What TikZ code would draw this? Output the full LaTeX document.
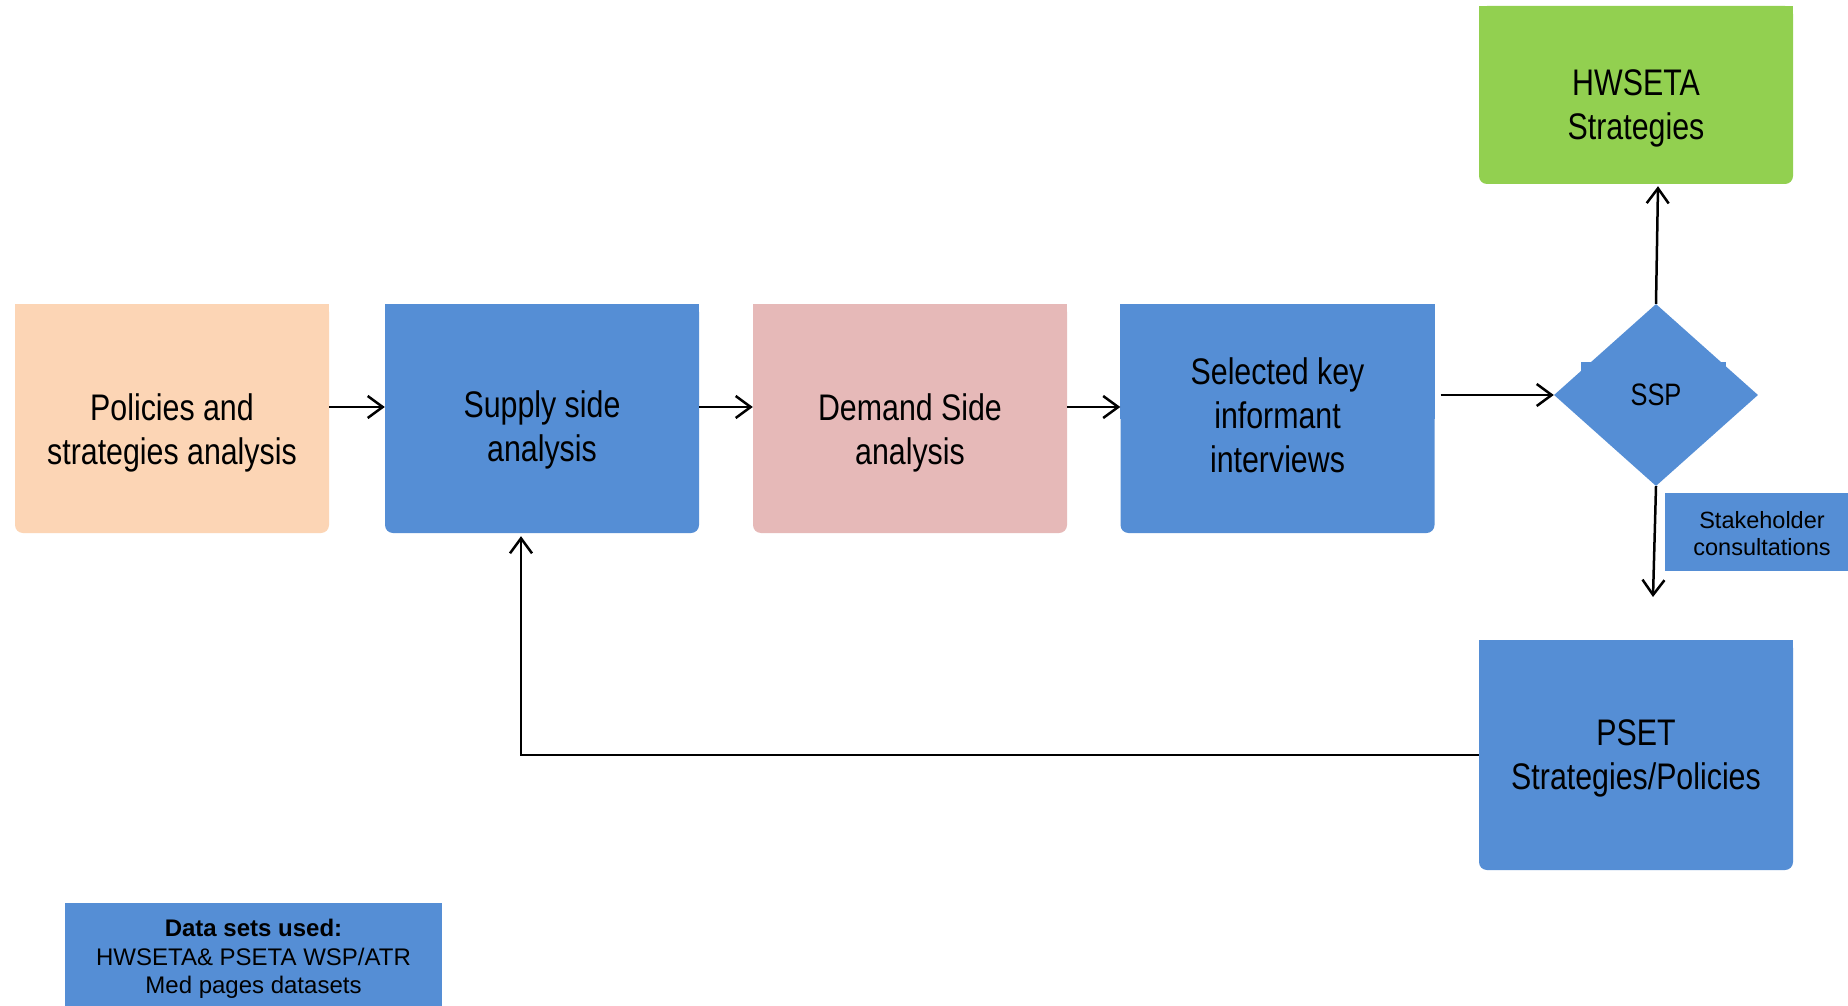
\documentclass[tikz,border=0pt]{standalone}
\usepackage{fontspec}
\setmainfont{Liberation Sans}
\newfontfamily\nar[FakeStretch=0.82]{Liberation Sans}
\usetikzlibrary{shapes.geometric,arrows.meta,calc}
\definecolor{cblue}{RGB}{85,142,213}
\definecolor{cpeach}{RGB}{252,213,181}
\definecolor{cpink}{RGB}{230,185,184}
\definecolor{cgreen}{RGB}{146,208,80}
\begin{document}
\begin{tikzpicture}[x=1pt,y=-1pt,
  box/.style={rectangle, inner sep=0pt, minimum width=314pt, minimum height=229pt, rounded corners=8pt, fill=#1},
  big/.style={font=\nar\fontsize{37}{44}\selectfont, align=center, text=black, inner sep=0pt},
  arr/.style={line width=2.5pt, -{Straight Barb[length=15pt,width=22pt]}, black}
]
\useasboundingbox[fill=white] (0,0) rectangle (1848,1006);

% main boxes
\node[box=cpeach] (pol) at (172,418.5) {};
\fill[cpeach] (pol.north west) rectangle (pol.east);
\node[box=cblue] (sup) at (542,418.5) {};
\fill[cblue] (sup.north west) rectangle (sup.east);
\node[box=cpink] (dem) at (910,418.5) {};
\fill[cpink] (dem.north west) rectangle (dem.east);
\node[box=cblue] (sel) at (1277.5,418.5) {};
\fill[cblue] (sel.north west) rectangle (sel.east);
\node[box=cgreen, minimum height=178pt] (hws) at (1636,95) {};
\fill[cgreen] (hws.north west) rectangle (hws.east);
\node[box=cblue, minimum height=230pt] (pset) at (1636,755) {};
\fill[cblue] (pset.north west) rectangle (pset.east);

% texts
\node[big] (polt) at (172,433) {Policies and\\strategies analysis};
\node[big] (supt) at (542,430) {Supply side\\analysis};
\node[big] (demt) at (910,433) {Demand Side\\analysis};
\node[big] (selt) at (1277.5,415) {Selected key\\informant\\interviews};
\node[big] (hwst) at (1636,108) {HWSETA\\Strategies};
\node[big] (psett) at (1636,758) {PSET\\Strategies/Policies};

% SSP diamond
\node[diamond, fill=cblue, minimum width=204pt, minimum height=182pt, inner sep=0pt,
      font=\nar\fontsize{31}{36}\selectfont] (ssp) at (1656,395) {SSP};
\fill[cblue] (1581,362) rectangle (1592,372);
\fill[cblue] (1718,362) rectangle (1726,368);

% stakeholder box
\node[fill=cblue, minimum width=183pt, minimum height=78pt, inner sep=0pt] (stk) at (1756.5,532) {};
\node[font=\fontsize{23.5}{27.5}\selectfont, align=center, inner sep=0pt] (stkt) at (1762,533.5) {Stakeholder\\consultations};

% data sets box
\node[fill=cblue, minimum width=377pt, minimum height=110pt, inner sep=0pt] (dat) at (253.5,958) {};
\node[font=\fontsize{24}{28.5}\selectfont, align=center, inner sep=0pt] (datt) at (253.5,959)
  {\textbf{Data sets used:}\\HWSETA\& PSETA WSP/ATR\\Med pages datasets};

% connectors
\coordinate (down) at (1653,597);
\draw[arr] (pol.east |- 0,407) -- (sup.west |- 0,407);
\draw[arr] (sup.east |- 0,407) -- (dem.west |- 0,407);
\draw[arr] (dem.east |- 0,407) -- (sel.west |- 0,407);
\draw[arr] ($(sel.east |- 0,395)+(6,0)$) -- (ssp.west);
\draw[arr] (ssp.north) -- ($(hws.south)+(22,2)$);
\draw[arr] (ssp.south) -- (down);
\draw[arr] (pset.west) -| ($(sup.south)+(-21,3)$);
\end{tikzpicture}
\end{document}
